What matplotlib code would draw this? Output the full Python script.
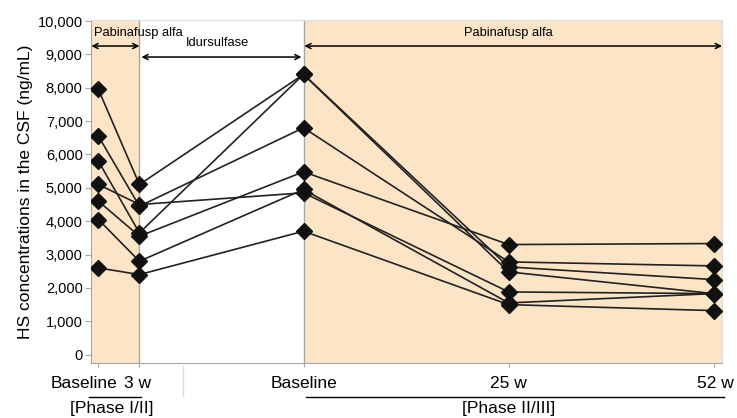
import matplotlib
matplotlib.use('Agg')
import matplotlib.pyplot as plt
from matplotlib.transforms import blended_transform_factory
from matplotlib.ticker import FuncFormatter

plt.rcParams['font.family'] = ['Liberation Sans', 'DejaVu Sans']

# time points (category positions on the x axis)
x_pos = [0, 1, 5, 10, 15]
x_labels = ['Baseline', '3 w', 'Baseline', '25 w', '52 w']

# HS in CSF (ng/mL) per patient at each time point
baseline_1 = [7950, 6550, 5800, 5100, 4600, 4050, 2600]
week_3 = [5100, 4450, 3650, 4500, 3550, 2800, 2400]
baseline_2 = [8400, 6800, 8400, 4850, 5480, 4950, 3700]
week_25 = [2480, 2780, 2630, 1880, 3300, 1550, 1500]
week_52 = [1830, 2660, 2250, 1830, 3330, 1830, 1320]

orange = '#FCE5C7'
grey = '#A6A6A6'

fig = plt.figure(figsize=(7.37, 4.18), dpi=100)
ax = fig.add_axes([91 / 737, 1 - 363 / 418, (722 - 91) / 737, (363 - 20) / 418])
ax.set_xlim(-0.18, 15.2)
ax.set_ylim(-250, 10030)

# treatment periods
ax.axvspan(-0.18, 1, color=orange, lw=0, zorder=0)
ax.axvspan(5, 15.2, color=orange, lw=0, zorder=0)
ax.axvline(1, color=grey, lw=1, zorder=1)
ax.axvline(5, color=grey, lw=1, zorder=1)

for i in range(len(baseline_1)):
    ys = [baseline_1[i], week_3[i], baseline_2[i], week_25[i], week_52[i]]
    ax.plot(x_pos, ys, color='#222222', lw=1.2, marker='D', ms=8,
            mfc='#111111', mec='#111111', zorder=3)

# period arrows and labels
arrow = dict(arrowstyle='<->', color='black', lw=1.1, mutation_scale=9,
             shrinkA=0, shrinkB=0)
ax.annotate('', xy=(-0.17, 9250), xytext=(1, 9250), arrowprops=arrow)
ax.annotate('', xy=(1.05, 8920), xytext=(4.95, 8920), arrowprops=arrow)
ax.annotate('', xy=(5.02, 9250), xytext=(15.2, 9250), arrowprops=arrow)
ax.text(-0.1, 9640, 'Pabinafusp alfa', fontsize=9.3, va='center', ha='left')
ax.text(2.9, 9330, 'Idursulfase', fontsize=9.3, va='center', ha='center')
ax.text(10, 9640, 'Pabinafusp alfa', fontsize=9.3, va='center', ha='center')

# axes styling
ax.set_yticks(range(0, 10001, 1000))
ax.yaxis.set_major_formatter(FuncFormatter(lambda v, p: f'{int(v):,}'))
ax.tick_params(axis='y', labelsize=10.5, length=4, color=grey, pad=2)
ax.set_xticks(x_pos)
ax.set_xticklabels([])
ax.tick_params(axis='x', length=3, color=grey)
for side in ['left', 'bottom']:
    ax.spines[side].set_color(grey)
for side in ['top', 'right']:
    ax.spines[side].set_color('#DDDDDD')
ax.set_ylabel('HS concentrations in the CSF (ng/mL)', fontsize=12.5, labelpad=3)

# x category labels under the axis
tr = blended_transform_factory(ax.transData, fig.transFigure)
fs = 12.5
fig.text(0.47, 1 - 384 / 418, x_labels[0], transform=tr, ha='right', va='center', fontsize=fs)
fig.text(0.95, 1 - 384 / 418, x_labels[1], transform=tr, ha='center', va='center', fontsize=fs)
fig.text(x_pos[2], 1 - 384 / 418, x_labels[2], transform=tr, ha='center', va='center', fontsize=fs)
fig.text(x_pos[3], 1 - 384 / 418, x_labels[3], transform=tr, ha='center', va='center', fontsize=fs)
fig.text(15.05, 1 - 384 / 418, x_labels[4], transform=tr, ha='center', va='center', fontsize=fs)

fig.add_artist(plt.Line2D([-0.23, 1.03], [1 - 397 / 418] * 2, transform=tr, color='black', lw=1))
fig.add_artist(plt.Line2D([5.05, 15.25], [1 - 397 / 418] * 2, transform=tr, color='black', lw=1))
fig.add_artist(plt.Line2D([2.07, 2.07], [1 - 366 / 418, 1 - 396 / 418], transform=tr, color='#DDDDDD', lw=1))
fig.text(0.32, 1 - 409 / 418, '[Phase I/II]', transform=tr, ha='center', va='center', fontsize=fs)
fig.text(10.0, 1 - 409 / 418, '[Phase II/III]', transform=tr, ha='center', va='center', fontsize=fs)

fig.savefig('out.png', dpi=100)
